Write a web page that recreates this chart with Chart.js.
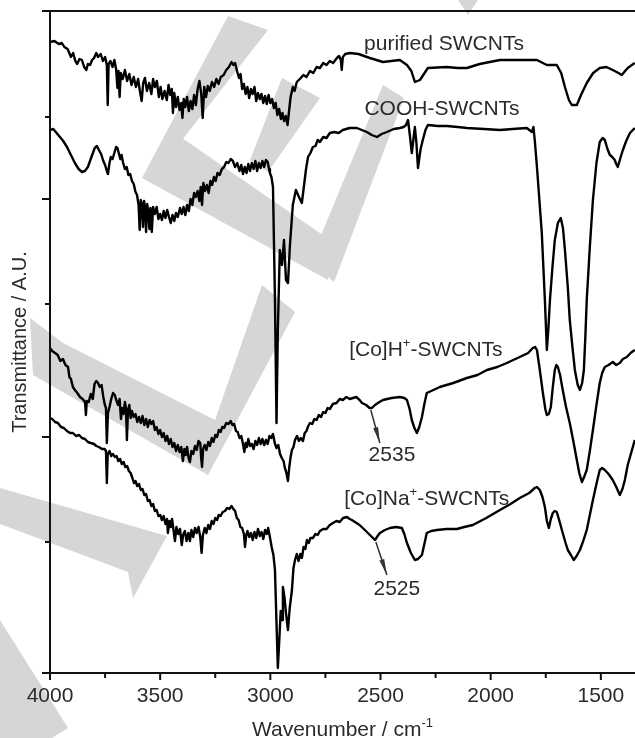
<!DOCTYPE html>
<html lang="en">
<head>
<meta charset="UTF-8" />
<title>FTIR SWCNTs</title>
<style>
  html, body { margin: 0; padding: 0; background: #fff; }
  #wrap { width: 635px; height: 738px; }
</style>
</head>
<body>
<div id="wrap"><canvas id="myChart" width="635" height="738"></canvas></div>
<script src="https://cdn.jsdelivr.net/npm/chart.js"></script>
<script>
// spectra: [wavenumber, transmittance (A.U.)]
const purified = [
  [4000, 63.1], [3980, 63.2], [3960, 62.9], [3946, 63.0], [3935, 62.6], [3920, 62.4],
  [3905, 61.6], [3895, 62.0], [3885, 61.2], [3877, 60.9], [3866, 61.4], [3855, 61.3],
  [3845, 60.6], [3835, 60.3], [3828, 60.9], [3818, 60.8], [3809, 61.3], [3800, 61.5],
  [3790, 62.0], [3782, 61.6], [3770, 61.9], [3760, 61.2], [3750, 61.6], [3742, 60.8],
  [3738, 56.8], [3734, 60.9], [3726, 61.2], [3716, 60.6], [3708, 61.3], [3700, 60.4],
  [3694, 58.5], [3689, 60.2], [3684, 57.6], [3679, 60.0], [3670, 59.4], [3660, 60.3],
  [3650, 59.2], [3640, 59.9], [3630, 58.8], [3620, 59.6], [3610, 58.6], [3600, 59.4],
  [3592, 58.2], [3584, 57.2], [3577, 59.0], [3569, 59.5], [3560, 58.2], [3550, 59.0],
  [3540, 57.9], [3532, 59.4], [3524, 58.6], [3515, 59.2], [3506, 57.6], [3498, 58.6],
  [3490, 57.4], [3480, 58.2], [3470, 57.3], [3462, 58.8], [3454, 57.8], [3447, 58.4],
  [3442, 56.0], [3436, 58.0], [3428, 56.6], [3420, 57.6], [3412, 56.3], [3404, 57.0],
  [3399, 55.5], [3393, 57.4], [3386, 56.6], [3378, 57.6], [3370, 56.2], [3362, 57.2],
  [3354, 56.4], [3346, 57.8], [3338, 56.8], [3330, 58.4], [3322, 59.2], [3314, 58.0],
  [3307, 55.5], [3300, 58.6], [3292, 57.6], [3284, 58.7], [3275, 58.2], [3265, 59.1],
  [3255, 58.6], [3245, 59.4], [3235, 58.9], [3225, 59.6], [3212, 59.8], [3200, 60.3],
  [3188, 60.6], [3176, 61.1], [3168, 60.8], [3160, 61.0], [3150, 60.1], [3142, 59.5],
  [3135, 59.9], [3128, 58.4], [3120, 58.9], [3112, 57.9], [3104, 58.6], [3096, 57.5],
  [3088, 58.4], [3080, 57.9], [3072, 58.6], [3064, 57.2], [3056, 58.0], [3048, 57.4],
  [3040, 57.9], [3032, 57.0], [3024, 57.7], [3016, 56.9], [3008, 57.8], [3000, 57.0],
  [2992, 57.4], [2984, 56.5], [2976, 57.0], [2968, 55.8], [2960, 56.4], [2952, 55.4],
  [2945, 56.0], [2938, 55.2], [2930, 55.7], [2922, 54.8], [2915, 56.2], [2908, 57.6],
  [2898, 58.6], [2890, 58.2], [2880, 59.1], [2866, 59.4], [2850, 59.8], [2836, 59.6],
  [2820, 60.2], [2805, 60.0], [2790, 60.6], [2775, 60.5], [2760, 61.0], [2745, 60.8],
  [2730, 61.2], [2715, 61.0], [2698, 61.5], [2688, 61.7], [2680, 61.3], [2676, 60.3],
  [2671, 61.6], [2660, 61.9], [2639, 62.0], [2600, 61.9], [2548, 61.5], [2489, 61.1],
  [2412, 61.3], [2380, 60.8], [2360, 60.2], [2344, 59.1], [2321, 59.3], [2300, 60.0],
  [2285, 60.5], [2199, 60.6], [2150, 60.5], [2108, 60.5], [2050, 60.9], [1958, 61.3],
  [1850, 61.3], [1790, 61.3], [1745, 60.8], [1700, 60.8], [1680, 60.0], [1663, 58.6],
  [1645, 57.3], [1632, 56.8], [1609, 56.8], [1590, 57.8], [1564, 59.0], [1535, 60.0],
  [1505, 60.5], [1475, 60.6], [1446, 60.3], [1420, 60.0], [1405, 59.8], [1390, 60.2],
  [1378, 60.5], [1346, 61.0]
];

const cooh = [
  [4000, 54.3], [3985, 54.4], [3970, 54.0], [3955, 53.6], [3940, 53.2], [3923, 52.6],
  [3905, 51.8], [3887, 51.0], [3870, 50.4], [3855, 50.1], [3842, 50.2], [3828, 50.6],
  [3812, 51.6], [3797, 52.5], [3787, 52.7], [3778, 52.3], [3768, 51.9], [3758, 51.2],
  [3750, 50.8], [3742, 50.2], [3737, 49.9], [3730, 51.0], [3724, 51.6], [3716, 51.4],
  [3708, 52.0], [3700, 52.6], [3694, 52.5], [3688, 52.0], [3681, 51.4], [3675, 51.8],
  [3668, 51.0], [3660, 50.4], [3652, 50.6], [3644, 49.8], [3636, 49.9], [3628, 49.2],
  [3620, 48.9], [3612, 48.1], [3605, 47.8], [3598, 46.8], [3593, 44.3], [3588, 47.3],
  [3583, 46.9], [3578, 44.6], [3573, 47.2], [3568, 46.4], [3564, 44.1], [3559, 46.9],
  [3554, 46.2], [3549, 44.4], [3544, 46.5], [3538, 44.1], [3532, 46.6], [3524, 45.9],
  [3516, 46.6], [3508, 45.4], [3500, 45.9], [3492, 45.3], [3484, 46.2], [3476, 45.5],
  [3468, 46.3], [3460, 45.6], [3452, 45.0], [3444, 45.8], [3436, 45.2], [3428, 46.0],
  [3420, 45.6], [3410, 46.5], [3402, 45.9], [3394, 46.6], [3386, 45.8], [3378, 46.8],
  [3370, 46.2], [3362, 47.4], [3354, 46.8], [3346, 48.0], [3338, 47.6], [3330, 48.2],
  [3322, 47.2], [3316, 48.6], [3310, 46.8], [3304, 49.0], [3296, 48.2], [3288, 48.8],
  [3280, 48.0], [3272, 49.2], [3264, 48.8], [3256, 49.6], [3248, 49.2], [3240, 50.0],
  [3230, 49.8], [3220, 50.4], [3210, 50.6], [3200, 51.1], [3190, 51.0], [3180, 51.4],
  [3170, 51.2], [3160, 50.6], [3150, 51.0], [3140, 50.2], [3132, 50.8], [3124, 49.9],
  [3116, 50.6], [3108, 50.0], [3100, 50.9], [3092, 50.2], [3084, 51.0], [3076, 50.4],
  [3068, 51.2], [3060, 50.2], [3052, 51.0], [3044, 50.5], [3036, 51.2], [3028, 50.6],
  [3020, 51.3], [3012, 51.1], [3006, 50.4], [3002, 50.0], [2995, 49.6], [2988, 48.6],
  [2979, 37.3], [2972, 25.0], [2966, 34.3], [2957, 42.3], [2947, 40.8], [2938, 43.3],
  [2929, 39.3], [2920, 39.0], [2911, 42.8], [2898, 46.8], [2884, 48.3], [2870, 47.6],
  [2857, 47.0], [2848, 48.6], [2838, 50.4], [2829, 51.6], [2818, 52.0], [2807, 52.6],
  [2795, 52.7], [2785, 53.3], [2775, 53.1], [2760, 53.6], [2745, 53.5], [2730, 54.0],
  [2710, 54.1], [2690, 54.0], [2671, 54.3], [2640, 54.5], [2607, 54.5], [2585, 54.3],
  [2562, 54.1], [2540, 53.8], [2516, 53.6], [2495, 53.9], [2471, 54.1], [2440, 54.4],
  [2412, 54.5], [2395, 54.6], [2384, 54.8], [2375, 55.3], [2367, 53.8], [2358, 52.0],
  [2350, 53.5], [2344, 54.6], [2337, 53.0], [2330, 50.5], [2318, 52.4], [2308, 53.3],
  [2296, 54.3], [2285, 54.8], [2240, 54.7], [2199, 54.7], [2150, 54.6], [2108, 54.5],
  [2030, 54.4], [1958, 54.3], [1900, 54.4], [1836, 54.5], [1813, 54.1], [1806, 54.6],
  [1800, 53.3], [1790, 50.6], [1768, 44.0], [1754, 37.3], [1745, 32.3], [1738, 34.5],
  [1731, 37.3], [1720, 40.5], [1709, 43.3], [1695, 45.0], [1682, 45.5], [1672, 44.5],
  [1663, 42.3], [1650, 38.6], [1641, 35.3], [1628, 32.4], [1618, 30.3], [1605, 28.8],
  [1595, 28.3], [1585, 29.0], [1577, 30.3], [1570, 33.8], [1564, 37.3], [1550, 42.6],
  [1536, 47.3], [1520, 51.0], [1505, 53.1], [1492, 53.5], [1482, 53.3], [1470, 52.4],
  [1459, 51.8], [1448, 51.6], [1437, 51.3], [1430, 50.9], [1423, 50.6], [1410, 51.6],
  [1400, 52.3], [1385, 53.2], [1368, 54.0], [1346, 54.5]
];

const coH = [
  [4000, 32.5], [3990, 32.2], [3977, 32.0], [3965, 31.8], [3953, 31.2], [3941, 31.4],
  [3930, 30.8], [3918, 30.6], [3912, 29.6], [3905, 29.4], [3896, 28.6], [3887, 28.3],
  [3876, 28.0], [3864, 27.6], [3852, 27.4], [3841, 27.1], [3837, 25.8], [3833, 27.2],
  [3824, 27.1], [3815, 27.9], [3806, 27.4], [3798, 28.9], [3790, 29.2], [3782, 29.0],
  [3774, 28.6], [3766, 28.8], [3758, 27.6], [3752, 26.9], [3746, 26.5], [3742, 23.0],
  [3737, 26.0], [3730, 26.6], [3722, 27.4], [3714, 28.0], [3706, 27.8], [3698, 27.2],
  [3691, 26.8], [3684, 27.4], [3678, 25.4], [3672, 26.5], [3666, 25.9], [3660, 27.1],
  [3655, 26.4], [3651, 23.3], [3646, 26.3], [3640, 26.8], [3634, 25.5], [3628, 26.2],
  [3620, 25.6], [3612, 25.9], [3604, 25.1], [3596, 25.6], [3588, 25.0], [3580, 25.7],
  [3572, 24.8], [3564, 25.4], [3556, 24.6], [3548, 25.3], [3540, 24.9], [3532, 25.2],
  [3524, 24.3], [3516, 24.6], [3508, 23.9], [3500, 24.3], [3492, 23.6], [3484, 24.0],
  [3476, 23.2], [3468, 23.7], [3460, 22.9], [3452, 23.4], [3444, 22.6], [3436, 23.0],
  [3428, 22.2], [3420, 22.8], [3412, 22.1], [3404, 22.6], [3397, 21.2], [3390, 22.4],
  [3384, 21.8], [3378, 22.6], [3371, 21.5], [3365, 21.1], [3358, 22.2], [3350, 21.9],
  [3342, 22.7], [3334, 22.3], [3326, 23.2], [3318, 23.0], [3314, 21.5], [3310, 20.6],
  [3305, 22.4], [3298, 22.8], [3290, 22.3], [3282, 23.1], [3274, 22.7], [3266, 23.5],
  [3258, 23.1], [3250, 23.8], [3242, 23.6], [3234, 24.3], [3226, 24.1], [3218, 24.6],
  [3210, 24.5], [3200, 25.0], [3190, 24.9], [3180, 25.2], [3172, 24.8], [3164, 24.9],
  [3156, 24.2], [3148, 24.1], [3140, 23.5], [3132, 23.7], [3124, 22.9], [3118, 22.1],
  [3112, 23.0], [3106, 22.6], [3100, 23.4], [3092, 22.7], [3084, 22.9], [3076, 22.4],
  [3068, 23.2], [3060, 22.8], [3052, 23.5], [3044, 22.9], [3036, 23.4], [3028, 22.8],
  [3020, 23.3], [3012, 22.9], [3004, 23.7], [2996, 23.5], [2988, 23.9], [2980, 23.0],
  [2972, 22.5], [2964, 22.8], [2956, 21.9], [2948, 21.5], [2940, 21.2], [2934, 20.5],
  [2928, 20.1], [2920, 19.2], [2914, 20.6], [2908, 21.6], [2902, 22.3], [2895, 22.6],
  [2888, 23.3], [2879, 23.7], [2870, 23.2], [2862, 23.5], [2852, 23.2], [2844, 24.0],
  [2836, 24.2], [2828, 24.7], [2820, 25.0], [2810, 24.9], [2800, 25.4], [2790, 25.3],
  [2780, 25.8], [2770, 25.6], [2760, 26.1], [2750, 26.0], [2740, 26.5], [2730, 26.4],
  [2716, 26.9], [2700, 27.0], [2685, 27.4], [2671, 27.3], [2655, 27.6], [2640, 27.4],
  [2625, 27.5], [2610, 27.6], [2595, 27.3], [2584, 27.0], [2565, 26.8], [2550, 26.5],
  [2539, 26.5], [2525, 26.8], [2505, 27.1], [2489, 27.3], [2450, 27.5], [2412, 27.6],
  [2392, 27.5], [2380, 27.3], [2368, 26.4], [2358, 25.3], [2346, 24.5], [2335, 24.0],
  [2324, 24.6], [2312, 25.6], [2300, 27.0], [2290, 28.0], [2260, 28.3], [2231, 28.6],
  [2170, 29.0], [2108, 29.5], [2060, 29.8], [2017, 30.3], [1970, 30.6], [1927, 31.0],
  [1868, 31.6], [1830, 32.0], [1809, 32.5], [1798, 32.6], [1790, 32.3], [1777, 30.3],
  [1763, 28.0], [1752, 26.4], [1745, 25.8], [1736, 25.9], [1727, 26.6], [1718, 28.6],
  [1709, 30.3], [1702, 30.8], [1695, 30.6], [1685, 29.8], [1673, 28.3], [1658, 26.6],
  [1641, 25.0], [1625, 23.2], [1609, 21.3], [1598, 20.0], [1586, 19.1], [1576, 19.6],
  [1564, 20.3], [1550, 22.2], [1536, 24.3], [1520, 26.8], [1505, 29.0], [1494, 30.0],
  [1482, 30.6], [1465, 30.8], [1446, 31.1], [1430, 30.8], [1414, 31.0], [1400, 31.4],
  [1382, 31.6], [1365, 32.0], [1346, 32.3]
];

const coNa = [
  [4000, 25.5], [3990, 25.4], [3977, 25.1], [3964, 25.0], [3950, 24.6], [3937, 24.5],
  [3923, 24.2], [3909, 24.0], [3896, 24.0], [3882, 23.7], [3868, 23.8], [3855, 23.5],
  [3841, 23.4], [3828, 23.1], [3815, 23.0], [3800, 22.9], [3790, 22.7], [3778, 22.6],
  [3764, 22.4], [3752, 22.4], [3746, 22.2], [3742, 19.0], [3738, 21.9], [3730, 22.2],
  [3722, 21.7], [3714, 21.9], [3706, 21.6], [3698, 21.7], [3690, 21.2], [3682, 21.4],
  [3674, 20.9], [3666, 21.1], [3658, 20.6], [3650, 20.7], [3642, 20.2], [3634, 20.0],
  [3626, 19.5], [3619, 19.0], [3612, 19.2], [3604, 18.7], [3596, 18.9], [3588, 18.3],
  [3580, 18.4], [3572, 17.8], [3564, 17.9], [3556, 17.2], [3548, 17.3], [3540, 16.7],
  [3532, 16.9], [3524, 16.2], [3516, 16.3], [3508, 15.7], [3500, 15.8], [3492, 15.3],
  [3484, 15.7], [3476, 14.9], [3469, 15.4], [3465, 14.0], [3458, 15.2], [3452, 14.6],
  [3446, 15.4], [3440, 14.4], [3433, 13.2], [3426, 14.6], [3418, 13.9], [3410, 14.4],
  [3402, 12.8], [3396, 13.8], [3388, 14.2], [3380, 13.2], [3372, 14.0], [3365, 13.2],
  [3358, 14.3], [3350, 13.6], [3342, 14.5], [3334, 14.0], [3326, 14.6], [3318, 13.6],
  [3312, 12.0], [3306, 13.8], [3298, 14.5], [3290, 14.0], [3282, 14.8], [3274, 14.4],
  [3266, 15.2], [3258, 14.9], [3250, 15.5], [3242, 15.3], [3234, 15.8], [3226, 15.7],
  [3216, 16.1], [3206, 16.2], [3196, 16.5], [3186, 16.4], [3176, 16.7], [3168, 16.4],
  [3160, 16.2], [3152, 15.5], [3144, 15.3], [3136, 14.6], [3128, 14.5], [3120, 13.9],
  [3115, 12.6], [3110, 13.7], [3104, 14.2], [3096, 13.6], [3088, 14.0], [3080, 13.3],
  [3072, 14.1], [3064, 13.5], [3056, 14.4], [3048, 13.7], [3040, 14.1], [3032, 13.4],
  [3024, 14.3], [3016, 13.9], [3010, 14.5], [3002, 13.6], [2994, 12.6], [2986, 11.8],
  [2979, 10.3], [2972, 5.0], [2966, 0.5], [2960, 3.0], [2953, 6.2], [2947, 5.3],
  [2943, 8.6], [2936, 7.6], [2929, 6.0], [2920, 4.3], [2912, 6.5], [2902, 8.3],
  [2895, 10.5], [2888, 11.3], [2880, 11.9], [2872, 11.2], [2864, 11.9], [2857, 11.5],
  [2849, 12.6], [2841, 12.4], [2834, 13.3], [2826, 13.0], [2818, 13.5], [2807, 13.5],
  [2795, 13.9], [2785, 13.8], [2775, 14.2], [2760, 14.4], [2745, 14.4], [2730, 14.8],
  [2716, 15.0], [2700, 15.2], [2685, 15.1], [2670, 15.5], [2652, 15.6], [2640, 15.4],
  [2630, 15.3], [2616, 15.1], [2595, 14.8], [2571, 14.3], [2548, 13.8], [2525, 13.3],
  [2513, 13.7], [2503, 14.0], [2480, 14.3], [2457, 14.5], [2430, 14.6], [2403, 14.5],
  [2392, 13.9], [2380, 13.0], [2362, 12.0], [2344, 11.3], [2330, 11.4], [2312, 11.8],
  [2300, 13.0], [2290, 14.0], [2270, 14.2], [2244, 14.3], [2200, 14.4], [2153, 14.4],
  [2120, 14.6], [2081, 14.8], [2020, 15.5], [1958, 16.3], [1910, 16.9], [1868, 17.5],
  [1825, 18.0], [1800, 18.5], [1790, 18.6], [1777, 18.3], [1765, 17.6], [1754, 16.6],
  [1745, 15.2], [1736, 14.5], [1727, 15.4], [1718, 16.0], [1709, 16.2], [1700, 16.1],
  [1688, 15.2], [1673, 14.0], [1660, 13.0], [1650, 12.3], [1636, 11.8], [1623, 11.3],
  [1610, 11.7], [1595, 12.3], [1580, 13.2], [1564, 14.3], [1550, 15.8], [1536, 17.3],
  [1520, 18.9], [1505, 20.3], [1494, 20.5], [1482, 20.3], [1465, 19.9], [1446, 19.3],
  [1430, 18.6], [1414, 17.8], [1402, 18.4], [1391, 19.3], [1378, 20.8], [1360, 22.2],
  [1346, 23.3]
];

const seriesList = [purified, cooh, coH, coNa];

const xLabelTicks = [4000, 3500, 3000, 2500, 2000, 1500];
const xMinorTicks = [3750, 3250, 2750, 2250, 1750];
const yMajorTicks = [66.2, 47.4, 23.6, 0];
const yMinorTicks = [55.6, 36.9, 13.1];

// curve labels: text pieces ([text, superscript?]) and where they sit
const curveLabels = [
  { parts: [['purified SWCNTs', 0]], wn: 2212, t: 63.1 },
  { parts: [['COOH-SWCNTs', 0]], wn: 2221, t: 56.6 },
  { parts: [['[Co]H', 0], ['+', 1], ['-SWCNTs', 0]], wn: 2294, t: 32.5 },
  { parts: [['[Co]Na', 0], ['+', 1], ['-SWCNTs', 0]], wn: 2290, t: 17.6 },
  { parts: [['2535', 0]], wn: 2448, t: 22.0 },
  { parts: [['2525', 0]], wn: 2426, t: 8.6 }
];
const arrows = [
  { from: [2544, 26.3], to: [2503, 23.0] },
  { from: [2521, 13.1], to: [2471, 9.8] }
];

const FONT = '"Liberation Sans", Arial, sans-serif';
const TEXT = '#2b2b2b';

function drawRich(ctx, parts, cx, cy, size) {
  const supSize = Math.round(size * 0.6);
  let total = 0;
  const widths = parts.map(([t, sup]) => {
    ctx.font = (sup ? supSize : size) + 'px ' + FONT;
    const w = ctx.measureText(t).width;
    total += w;
    return w;
  });
  let x = cx - total / 2;
  ctx.textAlign = 'left';
  ctx.textBaseline = 'alphabetic';
  const base = cy + size * 0.36;
  parts.forEach(([t, sup], i) => {
    ctx.font = (sup ? supSize : size) + 'px ' + FONT;
    ctx.fillText(t, x, sup ? base - size * 0.42 : base);
    x += widths[i];
  });
}

// light grey watermark shapes behind the plot
const watermark = {
  id: 'watermark',
  beforeDraw(chart) {
    const c = chart.ctx;
    const shapes = [
      [[228, 16], [268, 30], [182, 140], [142, 178]],
      [[182, 138], [330, 240], [328, 280], [142, 178]],
      [[383, 85], [404, 98], [334, 282], [310, 262]],
      [[282, 78], [320, 98], [268, 172], [250, 160]],
      [[30, 318], [63, 343], [215, 420], [262, 285], [295, 312], [208, 475], [33, 375]],
      [[0, 488], [167, 536], [133, 598], [128, 572], [0, 524]],
      [[0, 620], [68, 728], [52, 738], [0, 738]],
      [[458, 0], [478, 0], [468, 15]]
    ];
    c.save();
    c.fillStyle = '#d6d6d6';
    shapes.forEach(s => {
      c.beginPath();
      s.forEach(([x, y], i) => (i ? c.lineTo(x, y) : c.moveTo(x, y)));
      c.closePath();
      c.fill();
    });
    c.restore();
  }
};

const frame = {
  id: 'frame',
  afterDraw(chart) {
    const c = chart.ctx;
    const { left, right, top, bottom } = chart.chartArea;
    const xs = chart.scales.x, ys = chart.scales.y;
    c.save();
    c.strokeStyle = '#111';
    c.lineWidth = 2;
    c.beginPath();
    c.moveTo(left - 8, top); c.lineTo(right, top);
    c.moveTo(left, top); c.lineTo(left, bottom);
    c.moveTo(left - 8, bottom); c.lineTo(right, bottom);
    yMajorTicks.forEach(v => { const y = ys.getPixelForValue(v); c.moveTo(left - 8, y); c.lineTo(left, y); });
    yMinorTicks.forEach(v => { const y = ys.getPixelForValue(v); c.moveTo(left - 5, y); c.lineTo(left, y); });
    xLabelTicks.forEach(v => { const x = xs.getPixelForValue(v); c.moveTo(x, bottom); c.lineTo(x, bottom + 7); });
    xMinorTicks.forEach(v => { const x = xs.getPixelForValue(v); c.moveTo(x, bottom); c.lineTo(x, bottom + 5); });
    c.stroke();

    c.fillStyle = TEXT;
    curveLabels.forEach(l => {
      drawRich(c, l.parts, xs.getPixelForValue(l.wn), ys.getPixelForValue(l.t), 21);
    });

    // arrows pointing to the 2535 / 2525 shoulders
    c.strokeStyle = '#333';
    c.fillStyle = '#333';
    c.lineWidth = 1.5;
    arrows.forEach(a => {
      const x1 = xs.getPixelForValue(a.from[0]), y1 = ys.getPixelForValue(a.from[1]);
      const x2 = xs.getPixelForValue(a.to[0]), y2 = ys.getPixelForValue(a.to[1]);
      const ang = Math.atan2(y2 - y1, x2 - x1);
      c.beginPath(); c.moveTo(x1, y1); c.lineTo(x2, y2); c.stroke();
      c.beginPath();
      c.moveTo(x2, y2);
      c.lineTo(x2 - 16 * Math.cos(ang) + 2.5 * Math.sin(ang), y2 - 16 * Math.sin(ang) - 2.5 * Math.cos(ang));
      c.lineTo(x2 - 16 * Math.cos(ang) - 2.5 * Math.sin(ang), y2 - 16 * Math.sin(ang) + 2.5 * Math.cos(ang));
      c.closePath(); c.fill();
    });

    // axis titles
    c.fillStyle = TEXT;
    drawRich(c, [['Wavenumber / cm', 0], ['-1', 1]], (left + right) / 2, 728, 21);
    c.translate(20, (top + bottom) / 2);
    c.rotate(-Math.PI / 2);
    c.font = '20px ' + FONT;
    c.textAlign = 'center';
    c.textBaseline = 'middle';
    c.fillText('Transmittance / A.U.', 0, 0);
    c.restore();
  }
};

const ctx = document.getElementById('myChart').getContext('2d');
new Chart(ctx, {
  type: 'line',
  plugins: [watermark, frame],
  data: {
    datasets: seriesList.map(s => ({
      data: s.map(([x, y]) => ({ x, y })),
      borderColor: '#000',
      borderWidth: 2.4,
      borderJoinStyle: 'round',
      pointRadius: 0,
      tension: 0,
      fill: false
    }))
  },
  options: {
    responsive: false,
    animation: false,
    layout: { padding: { top: 11, right: 0, left: 0, bottom: 0 } },
    plugins: { legend: { display: false }, tooltip: { enabled: false } },
    scales: {
      x: {
        type: 'linear',
        reverse: true,
        min: 1345,
        max: 4000,
        grid: { display: false },
        border: { display: false },
        afterBuildTicks: s => { s.ticks = xLabelTicks.map(v => ({ value: v })); },
        ticks: {
          color: TEXT,
          font: { family: FONT, size: 21 },
          padding: 3,
          maxRotation: 0,
          autoSkip: false,
          callback: v => String(v)
        },
        afterFit: s => { s.height = 65; }
      },
      y: {
        min: 0,
        max: 66.2,
        grid: { display: false },
        border: { display: false },
        ticks: { display: false },
        afterFit: s => { s.width = 50; }
      }
    }
  }
});
</script>
</body>
</html>
